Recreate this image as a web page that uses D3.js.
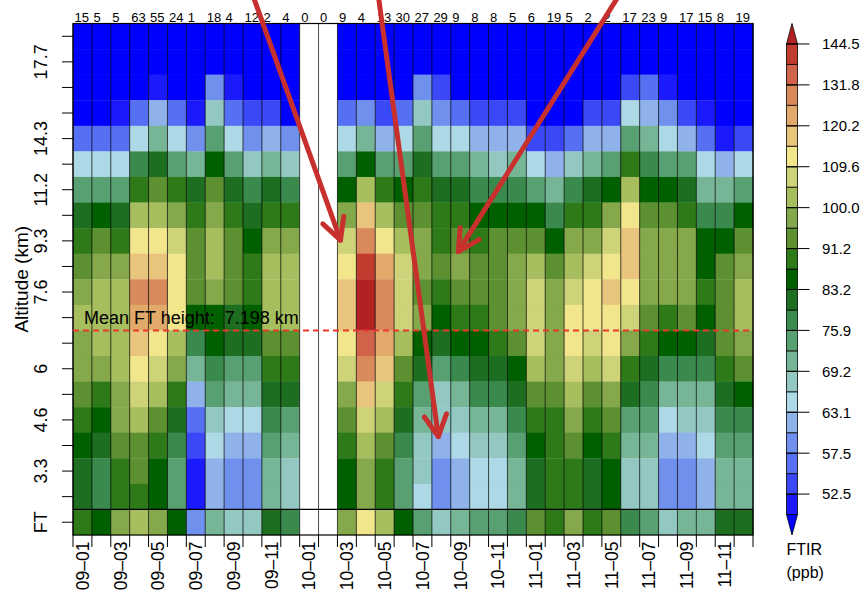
<!DOCTYPE html>
<html>
<head>
<meta charset="utf-8">
<script src="https://cdn.jsdelivr.net/npm/d3@7/dist/d3.min.js"></script>
<style>
  body { margin: 0; background: #fff; }
  text { font-family: "Liberation Sans", Arial, Helvetica, sans-serif; fill: #000; }
</style>
</head>
<body>
<svg width="865" height="593"></svg>
<script>
// months (yy-mm), one column each
const months = [
  "09-01","09-02","09-03","09-04","09-05","09-06","09-07","09-08","09-09","09-10","09-11","09-12",
  "10-01","10-02","10-03","10-04","10-05","10-06","10-07","10-08","10-09","10-10","10-11","10-12",
  "11-01","11-02","11-03","11-04","11-05","11-06","11-07","11-08","11-09","11-10","11-11","11-12"
];
// number of profiles per month (numbers on top)
const obsCount = [15,5,5,63,55,24,1,18,4,12,2,4,0,0,9,4,13,30,27,29,9,8,8,5,6,19,5,2,2,17,23,9,17,15,8,19];

// layer altitudes (km), top to bottom, last row is the free troposphere column
const altLevels = ["19.1","17.7","16.5","15.4","14.3","12.7","11.2","10.2","9.3","8.4","7.6","7.1","6.5","6","5.3","4.6","3.9","3.3","2.7","FT"];
const altTickLabels = ["17.7","14.3","11.2","9.3","7.6","6","4.6","3.3","FT"];
const meanFTHeight = 7.198;

// contour levels of the label bar (ppb) and fill colours (below first ... above last)
const ftirLevels = [50.1,52.5,55.0,57.5,60.3,63.1,66.1,69.2,72.4,75.9,79.4,83.2,87.1,91.2,95.5,100.0,104.7,109.6,114.8,120.2,125.9,131.8,138.0,144.5];
const ftirColors = ["#0000ff","#1a1afc","#3a48f8","#5570f2","#7090ee","#8fb2ea","#add8e6","#93c8c2","#76b596","#58a072",
  "#3a8a4e","#1e6e22","#006000","#2e7a18","#5c9030","#84a84a","#a6be5e","#ced278","#f2e68c","#e8c47c",
  "#e2aa6a","#d98a5c","#d0634a","#c13b2e","#b22222"];

// FTIR O3 (ppb), one row per layer, columns = months
const ftir = [
  [48,48,48,48,48,48,48,48,48,48,48,48,null,null,48,48,48,48,48,48,48,48,48,48,48,48,48,48,48,48,48,48,48,48,48,48],
  [48,48,48,48,48,48,48,48,48,48,48,48,null,null,48,48,48,48,48,48,48,48,48,48,48,48,48,48,48,48,48,48,48,48,48,48],
  [48,48,48,48,51,48,48,59,51,48,48,48,null,null,48,48,48,48,59,54,48,48,48,48,48,48,48,48,48,54,56,51,48,48,48,48],
  [48,48,51,56,62,56,51,68,56,54,54,48,null,null,56,59,54,56,68,59,56,54,54,54,48,48,48,54,54,65,62,59,54,51,48,48],
  [56,56,56,65,71,65,59,74,65,59,62,59,null,null,65,71,62,65,74,65,65,62,62,62,54,54,56,62,62,74,71,65,62,56,51,54],
  [65,65,65,78,81,74,71,85,74,68,71,68,null,null,74,85,74,74,81,74,74,71,68,71,65,62,68,71,74,89,78,74,74,65,62,65],
  [74,74,74,89,93,89,81,93,81,78,81,78,null,null,85,102,89,85,89,81,81,78,78,78,74,71,78,81,85,102,85,85,81,71,71,74],
  [81,85,81,102,102,98,89,98,89,81,89,89,null,null,98,118,102,93,93,89,89,85,85,85,85,78,89,89,98,112,93,93,89,78,78,85],
  [89,93,89,112,112,107,93,102,93,85,98,98,null,null,107,129,112,102,98,89,93,89,93,93,93,85,98,98,107,118,98,98,98,85,85,93],
  [93,98,98,118,118,112,93,102,93,89,102,102,null,null,112,141,123,107,98,93,98,93,93,98,102,93,102,107,112,118,98,98,98,85,93,98],
  [98,102,102,129,129,112,93,98,93,89,102,102,null,null,118,150,129,107,93,89,93,93,93,98,107,98,107,112,118,112,98,98,98,89,93,102],
  [102,102,102,123,123,112,85,85,81,85,102,102,null,null,118,150,129,107,98,85,89,89,93,98,107,98,112,112,112,107,93,89,93,85,93,102],
  [98,102,102,118,112,102,78,85,81,81,93,93,null,null,112,135,123,102,85,81,85,85,89,93,107,98,112,107,112,98,89,85,85,81,93,98],
  [98,98,102,112,107,98,71,78,74,74,89,89,null,null,107,129,118,93,81,74,78,81,81,85,102,98,107,102,107,89,81,78,78,78,89,93],
  [93,89,98,107,102,89,62,74,71,71,81,81,null,null,98,118,107,89,74,68,71,78,78,81,93,93,102,93,98,81,78,71,71,71,81,85],
  [89,85,98,102,93,81,56,68,65,65,78,74,null,null,93,107,102,81,71,68,68,71,71,78,89,89,98,89,93,74,74,65,68,68,78,78],
  [85,81,93,93,89,78,54,65,62,62,74,71,null,null,89,102,93,78,68,62,65,68,68,74,85,89,93,85,89,71,71,62,62,65,74,74],
  [81,78,89,93,85,74,51,62,59,59,71,68,null,null,85,98,89,74,68,59,62,65,65,71,81,89,89,81,85,68,68,59,59,62,71,71],
  [81,78,89,89,85,74,51,62,59,59,71,68,null,null,85,98,89,74,65,59,62,65,65,71,81,89,89,81,85,68,68,59,59,62,71,71],
  [89,85,98,102,98,85,59,71,68,68,81,78,null,null,98,112,102,85,74,68,71,74,74,78,93,89,98,89,93,78,74,68,71,71,81,81]
];

// hand drawn arrows, in column / row units
const arrows = [
  { from: [9.57, -1.0], to: [14.16, 8.47] },
  { from: [16.18, -1.0], to: [19.34, 16.15] },
  { from: [28.82, -1.0], to: [20.40, 8.92] }
];

const svg = d3.select("svg");
const width = +svg.attr("width");
const height = +svg.attr("height");
const margin = { top: 23.5, right: 112, bottom: 58, left: 73 };
const innerWidth = width - margin.left - margin.right;
const innerHeight = height - margin.top - margin.bottom;

const xScale = d3.scaleBand().domain(months).range([0, innerWidth]);
const yScale = d3.scaleBand().domain(altLevels).range([0, innerHeight]);
const color = d3.scaleThreshold().domain(ftirLevels).range(ftirColors);

const g = svg.append("g").attr("transform", `translate(${margin.left},${margin.top})`);

// cells
const cells = [];
ftir.forEach((row, r) => row.forEach((v, c) => cells.push({ month: months[c], alt: altLevels[r], value: v })));
g.selectAll("rect.cell").data(cells).enter().append("rect")
  .attr("class", "cell")
  .attr("x", d => xScale(d.month))
  .attr("y", d => yScale(d.alt))
  .attr("width", xScale.bandwidth() + 0.3)
  .attr("height", yScale.bandwidth() + 0.3)
  .attr("fill", d => d.value == null ? "#fff" : color(d.value));

// column separators
const edges = months.map(m => xScale(m)).concat([innerWidth]);
g.selectAll("line.col").data(edges).enter().append("line")
  .attr("x1", d => d).attr("x2", d => d)
  .attr("y1", 0).attr("y2", innerHeight)
  .attr("stroke", "#000").attr("stroke-opacity", 0.7).attr("stroke-width", 1);

// FT row separator
g.append("line")
  .attr("x1", 0).attr("x2", innerWidth)
  .attr("y1", yScale("FT")).attr("y2", yScale("FT"))
  .attr("stroke", "#000").attr("stroke-width", 1.2);

g.append("rect")
  .attr("width", innerWidth).attr("height", innerHeight)
  .attr("fill", "none").attr("stroke", "#000").attr("stroke-width", 1.2);

// left axis
const yAxis = d3.axisLeft(yScale).tickSize(11).tickFormat(d => altTickLabels.includes(d) ? d : "");
const yg = g.append("g").call(yAxis);
yg.select(".domain").remove();
yg.selectAll("line").attr("stroke", "#000");
yg.selectAll("text")
  .attr("x", 0).attr("y", 0).attr("dy", 0)
  .attr("text-anchor", "middle")
  .attr("transform", "translate(-26,0) rotate(-90)")
  .style("font-size", "18px");

g.append("text")
  .attr("transform", `translate(-45,${innerHeight / 2}) rotate(-90)`)
  .attr("text-anchor", "middle")
  .style("font-size", "19px")
  .text("Altitude (km)");

// bottom axis: ticks on every column edge, labels on every second month
g.selectAll("line.xtick").data(edges).enter().append("line")
  .attr("x1", d => d).attr("x2", d => d)
  .attr("y1", innerHeight).attr("y2", innerHeight + 12)
  .attr("stroke", "#000");
const xAxis = d3.axisBottom(xScale)
  .tickValues(months.filter((d, i) => i % 2 === 0))
  .tickSize(0)
  .tickFormat(d => d.replace("-", "\u2013"));
const xg = g.append("g").attr("transform", `translate(0,${innerHeight})`).call(xAxis);
xg.select(".domain").remove();
xg.selectAll("text")
  .attr("x", 0).attr("y", 0).attr("dy", 0)
  .attr("text-anchor", "end")
  .attr("transform", "translate(6.3,6.5) rotate(-90)")
  .style("font-size", "17.5px");

// profile counts on top
g.selectAll("text.count").data(obsCount).enter().append("text")
  .attr("x", (d, i) => xScale(months[i]) + 1.5)
  .attr("y", -2)
  .style("font-size", "13px")
  .text(d => d);

// mean FT height: lower edge of the layer closest to it
const ftLayer = altLevels.slice(0, -1)
  .reduce((a, b) => Math.abs(+b - meanFTHeight) < Math.abs(+a - meanFTHeight) ? b : a);
const ftY = yScale(ftLayer) + yScale.bandwidth();
g.append("line")
  .attr("x1", 0).attr("x2", innerWidth)
  .attr("y1", ftY).attr("y2", ftY)
  .attr("stroke", "#e8372b").attr("stroke-width", 2)
  .attr("stroke-dasharray", "6,4");
g.append("text")
  .attr("x", 11).attr("y", ftY - 6.5)
  .style("font-size", "18px")
  .style("white-space", "pre")
  .text(`Mean FT height:  ${meanFTHeight} km`);

// label bar
const cb = svg.append("g").attr("transform", `translate(786.5,0)`);
const cbW = 11;
const cbY = d3.scaleLinear().domain([0, ftirColors.length]).range([margin.top + innerHeight, margin.top]);
ftirColors.forEach((c, k) => {
  let pts;
  if (k === 0) pts = [[0, cbY(1)], [cbW, cbY(1)], [cbW / 2, cbY(0)]];
  else if (k === ftirColors.length - 1) pts = [[0, cbY(k)], [cbW, cbY(k)], [cbW / 2, cbY(k + 1)]];
  else pts = [[0, cbY(k + 1)], [cbW, cbY(k + 1)], [cbW, cbY(k)], [0, cbY(k)]];
  cb.append("path")
    .attr("d", d3.line()(pts) + "Z")
    .attr("fill", c)
    .attr("stroke", "#000").attr("stroke-width", 0.8);
});
const labelled = ftirLevels.map((v, j) => ({ v, j })).filter(d => d.j % 2 === 1);
cb.selectAll("line.cbt").data(labelled).enter().append("line")
  .attr("x1", 0).attr("x2", cbW + 12)
  .attr("y1", d => cbY(d.j + 1)).attr("y2", d => cbY(d.j + 1))
  .attr("stroke", "#000");
cb.selectAll("text.cbl").data(labelled).enter().append("text")
  .attr("x", cbW + 24.5)
  .attr("y", d => cbY(d.j + 1))
  .attr("dy", "0.36em")
  .style("font-size", "15px")
  .text(d => d3.format(".1f")(d.v));
cb.append("text").attr("x", 0).attr("y", 555).style("font-size", "16px").text("FTIR");
cb.append("text").attr("x", 0).attr("y", 578).style("font-size", "16px").text("(ppb)");

// arrows
const colPos = d3.scaleLinear().domain([0, months.length]).range([0, innerWidth]);
const rowPos = d3.scaleLinear().domain([0, altLevels.length]).range([0, innerHeight]);
const ag = g.append("g").attr("stroke", "#c8302e").attr("stroke-width", 5)
  .attr("stroke-linecap", "round").attr("stroke-linejoin", "round").attr("fill", "none");
arrows.forEach(a => {
  const x0 = colPos(a.from[0]), y0 = rowPos(a.from[1]);
  const x1 = colPos(a.to[0]), y1 = rowPos(a.to[1]);
  const ang = Math.atan2(y0 - y1, x0 - x1);
  const len = 24, spread = Math.PI / 6.5;
  ag.append("path").attr("d", d3.line()([[x0, y0], [x1, y1]]));
  ag.append("path").attr("d", d3.line()([
    [x1 + len * Math.cos(ang - spread), y1 + len * Math.sin(ang - spread)],
    [x1, y1],
    [x1 + len * Math.cos(ang + spread), y1 + len * Math.sin(ang + spread)]
  ]));
});
</script>
</body>
</html>
